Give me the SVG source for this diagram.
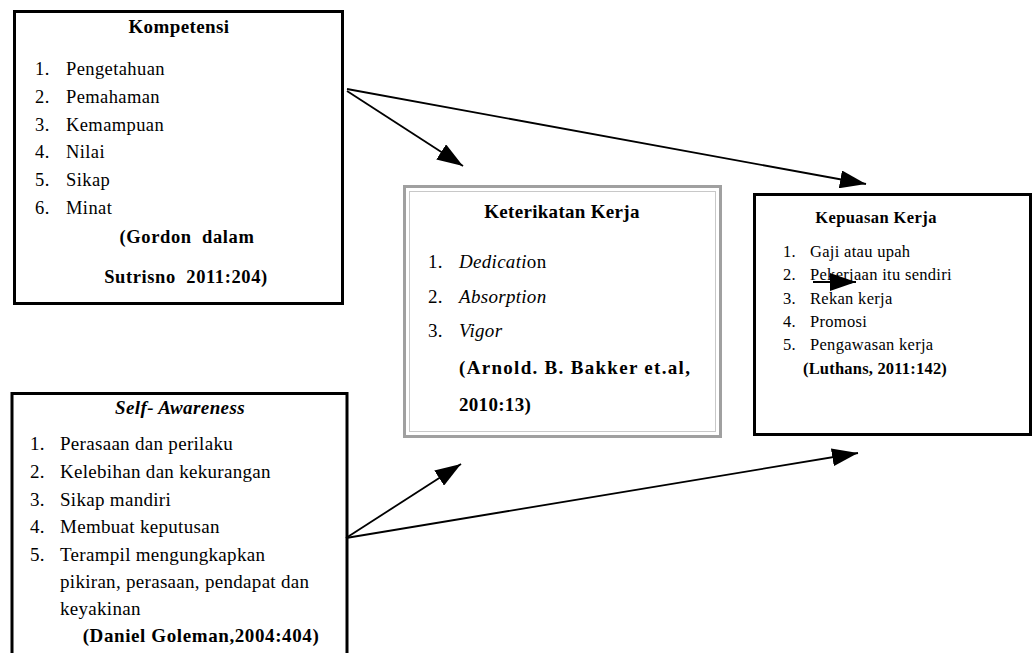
<svg xmlns="http://www.w3.org/2000/svg" width="1033" height="653" viewBox="0 0 1033 653">
<defs>
<style>
text{font-family:"Liberation Serif","Times New Roman",serif;fill:#000}
.b{font-weight:bold}
.i{font-style:italic}
.box{fill:#fff;stroke:#000;stroke-width:3}
.c{stroke:#000;stroke-width:1.8;fill:none}
</style>
<marker id="ah2" markerWidth="26" markerHeight="18" refX="26" refY="9" orient="auto" markerUnits="userSpaceOnUse" viewBox="0 0 26 18">
<path d="M0,0 L26,9 L0,18 z" fill="#000"/>
</marker>
</defs>
<rect width="1033" height="653" fill="#fff"/>

<g id="kompetensi">
<rect class="box" x="14.5" y="11.5" width="328" height="292"/>
<text class="b" x="179" y="33" font-size="19" text-anchor="middle" letter-spacing="0.4">Kompetensi</text>
<g font-size="18.5" letter-spacing="0.4">
<text x="35" y="75">1.</text><text x="66" y="75">Pengetahuan</text>
<text x="35" y="103">2.</text><text x="66" y="103">Pemahaman</text>
<text x="35" y="131">3.</text><text x="66" y="131">Kemampuan</text>
<text x="35" y="158">4.</text><text x="66" y="158">Nilai</text>
<text x="35" y="186">5.</text><text x="66" y="186">Sikap</text>
<text x="35" y="214">6.</text><text x="66" y="214">Minat</text>
</g>
<text class="b" x="187" y="243" font-size="18.5" text-anchor="middle" letter-spacing="0.6" xml:space="preserve">(Gordon  dalam</text>
<text class="b" x="186" y="283" font-size="18.5" text-anchor="middle" letter-spacing="0.6" xml:space="preserve">Sutrisno  2011:204)</text>
</g>

<g id="keterikatan">
<rect x="404.5" y="186.5" width="316" height="250" fill="#fff" stroke="#a0a0a0" stroke-width="3"/>
<rect x="409.5" y="191.5" width="306" height="240" fill="none" stroke="#c8c8c8" stroke-width="1"/>
<text class="b" x="562" y="218" font-size="19" text-anchor="middle" letter-spacing="0.3">Keterikatan Kerja</text>
<g font-size="19" letter-spacing="0.3">
<text x="428" y="268">1.</text><text x="459" y="268"><tspan class="i">Dedicati</tspan>on</text>
<text x="428" y="303">2.</text><text class="i" x="459" y="303">Absorption</text>
<text x="428" y="337">3.</text><text class="i" x="459" y="337">Vigor</text>
<text class="b" x="459" y="374" letter-spacing="1.3">(Arnold. B. Bakker et.al,</text>
<text class="b" x="459" y="411">2010:13)</text>
</g>
</g>

<g id="kepuasan">
<rect class="box" x="754.5" y="194.5" width="276" height="240"/>
<text class="b" x="876" y="223" font-size="16.5" text-anchor="middle" letter-spacing="0.4">Kepuasan Kerja</text>
<g font-size="16.5" letter-spacing="0.3">
<text x="783" y="257">1.</text><text x="810" y="257">Gaji atau upah</text>
<text x="783" y="280">2.</text><text x="810" y="280">Pekerjaan itu sendiri</text>
<text x="783" y="304">3.</text><text x="810" y="304">Rekan kerja</text>
<text x="783" y="327">4.</text><text x="810" y="327">Promosi</text>
<text x="783" y="350">5.</text><text x="810" y="350">Pengawasan kerja</text>
</g>
<text class="b" x="875" y="374" font-size="16.5" text-anchor="middle" letter-spacing="0.2">(Luthans, 2011:142)</text>
</g>

<g id="self-awareness">
<rect class="box" x="12" y="393.5" width="335" height="320" stroke-width="2.5"/>
<text class="b i" x="180" y="414" font-size="19" text-anchor="middle" letter-spacing="0.4">Self- Awareness</text>
<g font-size="19" letter-spacing="0.3">
<text x="30" y="450">1.</text><text x="60" y="450">Perasaan dan perilaku</text>
<text x="30" y="478">2.</text><text x="60" y="478">Kelebihan dan kekurangan</text>
<text x="30" y="506">3.</text><text x="60" y="506">Sikap mandiri</text>
<text x="30" y="533">4.</text><text x="60" y="533">Membuat keputusan</text>
<text x="30" y="561">5.</text><text x="60" y="561">Terampil mengungkapkan</text>
<text x="60" y="588">pikiran, perasaan, pendapat dan</text>
<text x="60" y="615">keyakinan</text>
</g>
<text class="b" x="201" y="642" font-size="19" text-anchor="middle" letter-spacing="0.6">(Daniel Goleman,2004:404)</text>
</g>

<g id="connectors">
<line class="c" x1="347" y1="91" x2="463" y2="166" marker-end="url(#ah2)"/>
<line class="c" x1="347" y1="89" x2="866" y2="184" marker-end="url(#ah2)"/>
<line class="c" x1="346" y1="538" x2="461" y2="464" marker-end="url(#ah2)"/>
<line class="c" x1="346" y1="538" x2="858" y2="453" marker-end="url(#ah2)"/>
<line class="c" x1="813" y1="282" x2="856" y2="282" marker-end="url(#ah2)"/>
</g>
</svg>
